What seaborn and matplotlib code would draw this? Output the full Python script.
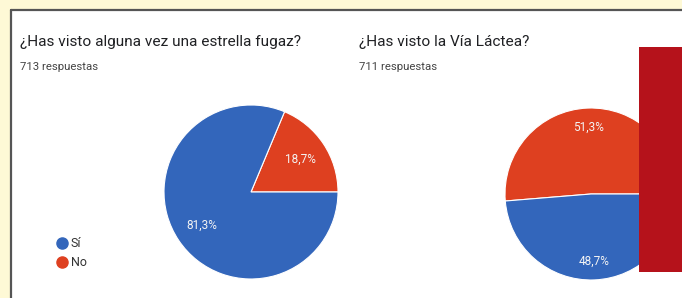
import matplotlib
matplotlib.use("Agg")
import matplotlib.pyplot as plt
import seaborn as sns
from matplotlib.lines import Line2D
from matplotlib.patches import Rectangle

sns.set_theme(style="white")
plt.rcParams['font.family'] = ['Roboto', 'DejaVu Sans']

# Data
categories = ["Sí", "No"]
fugaz_values = [81.3, 18.7]
lactea_values = [48.7, 51.3]
titles = ["¿Has visto alguna vez una estrella fugaz?", "¿Has visto la Vía Láctea?"]
subtitles = ["713 respuestas", "711 respuestas"]

palette = sns.color_palette(["#3366BB", "#DE4020"])

W, H = 682, 298
fig = plt.figure(figsize=(W / 100, H / 100), dpi=100, frameon=False)

def fx(px):
    return px / W

def fy(py):
    return 1 - py / H

# yellow page background
fig.add_artist(Rectangle((-0.01, -0.01), 1.02, 1.02, transform=fig.transFigure,
                         facecolor="#FEF9D6", edgecolor="none", linewidth=0, zorder=-1))
# white panel with top/left border
fig.add_artist(Rectangle((fx(10), -0.01), 1.02 - fx(10), fy(9.5) + 0.01, transform=fig.transFigure,
                         facecolor="white", edgecolor="none", linewidth=0, zorder=0))
fig.add_artist(Line2D([fx(10.5), 1.01], [fy(9.5), fy(9.5)], transform=fig.transFigure,
                      color="#555555", lw=1.6, zorder=1))
fig.add_artist(Line2D([fx(10.5), fx(10.5)], [fy(9.5), -0.01], transform=fig.transFigure,
                      color="#555555", lw=1.6, zorder=1))

def fmt(p):
    return f"{p:.1f}%".replace(".", ",")

def draw_pie(cx, cy, r, values, pctdist):
    ax = fig.add_axes([fx(cx - r), fy(cy + r), 2 * r / W, 2 * r / H])
    # order: No first counterclockwise from 3 o'clock, then Sí
    vals = [values[1], values[0]]
    cols = [palette[1], palette[0]]
    ax.pie(vals, colors=cols, startangle=0, counterclock=True,
           autopct=fmt, pctdistance=pctdist,
           wedgeprops=dict(edgecolor="white", linewidth=0.8),
           textprops=dict(color="#F4F4F4", fontsize=8.5))
    ax.set_xlim(-1, 1)
    ax.set_ylim(-1, 1)
    ax.set_aspect("auto")
    ax.axis("off")
    return ax

draw_pie(251, 192, 87, fugaz_values, 0.68)
draw_pie(591, 194, 86, lactea_values, 0.78)

# titles
fig.text(fx(20), fy(42), titles[0], fontsize=11.1, color="#202124", va="center", ha="left")
fig.text(fx(20), fy(67), subtitles[0], fontsize=8.2, color="#444444", va="center", ha="left")
fig.text(fx(359), fy(42), titles[1], fontsize=11.1, color="#202124", va="center", ha="left")
fig.text(fx(359), fy(67), subtitles[1], fontsize=8.2, color="#444444", va="center", ha="left")

# legend
handles = [Line2D([], [], marker="o", linestyle="none", markersize=8,
                  markerfacecolor=palette[i], markeredgecolor=palette[i]) for i in range(2)]
fig.legend(handles, categories, loc="upper left", bbox_to_anchor=(fx(48), fy(231)),
           frameon=False, fontsize=9, handletextpad=0.1, labelspacing=0.45,
           borderpad=0, handlelength=1.2, labelcolor="#333333")

# overlapping red rectangle
fig.add_artist(Rectangle((fx(639), fy(272)), 1.01 - fx(639), fy(47) - fy(272),
                         transform=fig.transFigure, facecolor="#B5121B",
                         edgecolor="none", linewidth=0, zorder=10))

fig.savefig("out.png", dpi=100, facecolor="#FEF9D6")
